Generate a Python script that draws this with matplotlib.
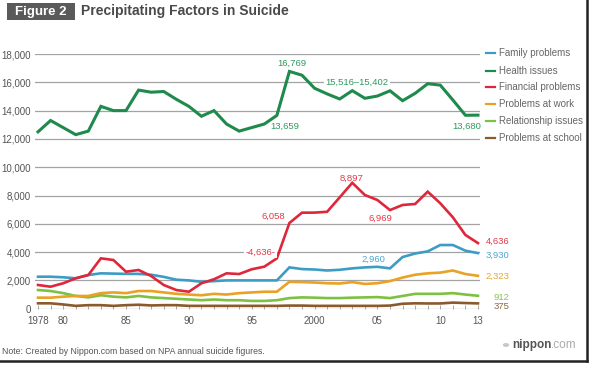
import numpy as np
import matplotlib
matplotlib.use("Agg")
import matplotlib.pyplot as plt
from matplotlib.lines import Line2D
from matplotlib.patches import Rectangle, Circle

plt.rcParams['font.family'] = ['Liberation Sans', 'DejaVu Sans']

# -----------------------------------------------------------------------------
# Data
# -----------------------------------------------------------------------------
years = list(range(1978, 2014))

family = [2260, 2260, 2220, 2150, 2380, 2500, 2480, 2460, 2460, 2400,
          2250, 2050, 2000, 1900, 1950, 2000, 2000, 2000, 2000, 2000,
          2920, 2800, 2770, 2700, 2750, 2850, 2920, 2960, 2850, 3650,
          3900, 4050, 4500, 4500, 4100, 3930]

health = [12500, 13300, 12800, 12300, 12550, 14300, 14000, 14000, 15450, 15300,
          15350, 14800, 14300, 13600, 14000, 13050, 12550, 12800, 13050, 13659,
          16769, 16500, 15580, 15180, 14820, 15410, 14870, 15030, 15400, 14700,
          15220, 15900, 15800, 14750, 13670, 13680]

financial = [1675, 1555, 1795, 2150, 2380, 3560, 3440, 2615, 2735, 2310,
             1675, 1320, 1200, 1795, 2080, 2500, 2450, 2785, 2970, 3556,
             6058, 6785, 6790, 6850, 7870, 8897, 8035, 7680, 6969, 7330,
             7400, 8270, 7450, 6460, 5210, 4636]

work = [780, 780, 850, 900, 900, 1100, 1150, 1100, 1250, 1250,
        1150, 1050, 1000, 950, 1050, 1000, 1100, 1150, 1200, 1200,
        1900, 1880, 1850, 1800, 1780, 1880, 1750, 1800, 1950, 2200,
        2400, 2500, 2550, 2700, 2450, 2323]

relationship = [1320, 1250, 1100, 900, 800, 950, 850, 800, 900, 800,
                750, 700, 650, 600, 650, 600, 600, 550, 550, 600,
                750, 800, 780, 750, 750, 780, 800, 820, 750, 900,
                1050, 1050, 1050, 1100, 1000, 912]

school = [380, 380, 300, 200, 250, 250, 200, 250, 280, 230,
          250, 250, 200, 200, 200, 200, 200, 200, 200, 200,
          220, 220, 200, 200, 200, 200, 200, 200, 220, 350,
          380, 370, 370, 430, 400, 375]

series_names = ["Family problems", "Health issues", "Financial problems",
                "Problems at work", "Relationship issues", "Problems at school"]
series_data = [family, health, financial, work, relationship, school]
colors = ["#3c9cc4", "#1e8a4c", "#e0263a", "#e9a224", "#7dc142", "#8a5a2c"]
label_colors = ["#4aa8cf", "#2f9a5e", "#e43848", "#e9a630", "#86c44c", "#8a6a40"]

ytick_vals = list(range(0, 18001, 2000))
xtick_vals = [1978, 1980, 1985, 1990, 1995, 2000, 2005, 2010, 2013]
xtick_labels = ["1978", "80", "85", "90", "95", "2000", "05", "10", "13"]

# callouts: (text, year, value, series index, white box)
callouts = [
    ("16,769", 1998.2, 17350, 1, False),
    ("13,659", 1997.6, 12900, 1, False),
    ("15,516\u201315,402", 2003.4, 16000, 1, True),
    ("13,680", 2012.1, 12900, 1, False),
    ("8,897", 2002.95, 9230, 2, False),
    ("6,969", 2005.2, 6400, 2, False),
    ("6,058", 1996.7, 6500, 2, False),
    ("-4,636-", 1995.7, 4000, 2, True),
    ("2,960", 2004.7, 3490, 0, False),
]
end_labels = ["3,930", "13,680", "4,636", "2,323", "912", "375"]
end_label_y = [3745, None, 4735, 2310, 805, 140]

# -----------------------------------------------------------------------------
# Figure
# -----------------------------------------------------------------------------
W, H = 589, 365
fig = plt.figure(figsize=(W / 100, H / 100), dpi=100)
fig.patch.set_facecolor("white")

px = lambda x: x / W
py = lambda y: 1 - y / H

ax = fig.add_axes([px(35), py(308.7), px(445), (308.7 - 54) / H])
ax.set_xlim(1977.76, 2013.16)
ax.set_ylim(0, 18000)

for v in ytick_vals:
    ax.axhline(v, color="#a3a3a3", lw=0.9, zorder=1)

# draw back to front: school at the bottom, health on top
order = [5, 4, 3, 0, 2, 1]
for i in order:
    lw = 2.2 if i == 1 else 1.9
    ax.plot(years, series_data[i], color=colors[i], lw=lw, zorder=3 + order.index(i),
            solid_joinstyle="miter", clip_on=False)

for s in ax.spines.values():
    s.set_visible(False)

ax.set_yticks(ytick_vals)
ax.set_yticklabels([f"{v:,}" for v in ytick_vals])
ax.set_xticks(xtick_vals)
ax.set_xticklabels(xtick_labels)
ax.set_xticks(years, minor=True)
ax.tick_params(axis="y", length=0, pad=3, labelsize=7, labelcolor="#555555")
ax.tick_params(axis="x", which="both", direction="in", length=3, width=0.6,
               color="#9a9a9a", pad=5, labelsize=7, labelcolor="#555555")

for text, yr, val, si, boxed in callouts:
    kw = dict(ha="center", va="center", fontsize=6.8, color=label_colors[si], zorder=12)
    if boxed:
        kw["bbox"] = dict(boxstyle="square,pad=0.15", fc="white", ec="none")
    ax.text(yr, val, text, **kw)

for i, lab in enumerate(end_labels):
    if end_label_y[i] is None:
        continue
    ax.text(2015.47, end_label_y[i], lab, ha="right", va="center", fontsize=6.8,
            color=label_colors[i], clip_on=False)

# legend
leg_y = [53.3, 70.7, 87.3, 104, 121, 138.3]
for i, name in enumerate(series_names):
    fig.add_artist(Line2D([px(486), px(495)], [py(leg_y[i]), py(leg_y[i])],
                          color=colors[i], lw=1.6))
    fig.text(px(499), py(leg_y[i]), name, ha="left", va="center",
             fontsize=7, color="#666666")

# title
fig.add_artist(Rectangle((px(7), py(20)), px(68), (20 - 3) / H,
                         facecolor="#5a5a5a", edgecolor="none"))
fig.text(px(41), py(11.5), "Figure 2", ha="center", va="center",
         fontsize=9.5, fontweight="bold", color="white")
fig.text(px(81), py(11.5), "Precipitating Factors in Suicide", ha="left", va="center",
         fontsize=10, fontweight="bold", color="#4a4a4a")

# footer
fig.text(px(2), py(352), "Note: Created by Nippon.com based on NPA annual suicide figures.",
         ha="left", va="center", fontsize=6.3, color="#555555")
fig.add_artist(Circle((px(506), py(345)), 3.2 / W, transform=fig.transFigure,
                      facecolor="#c8c8c8", edgecolor="none"))
t = fig.text(px(512), py(345), "nippon", ha="left", va="center",
             fontsize=8.5, fontweight="bold", color="#555555")
fig.canvas.draw()
bb = t.get_window_extent(renderer=fig.canvas.get_renderer())
fig.text(bb.x1 / fig.bbox.width, py(345), ".com", ha="left", va="center",
         fontsize=8.5, color="#aaaaaa")

# shadow border on right and bottom
fig.add_artist(Line2D([px(586.5), px(586.5)], [py(0), py(361)], color="#222222", lw=1.8))
fig.add_artist(Line2D([px(0), px(586.5)], [py(361), py(361)], color="#222222", lw=1.8))

fig.savefig("out.png", dpi=100)
